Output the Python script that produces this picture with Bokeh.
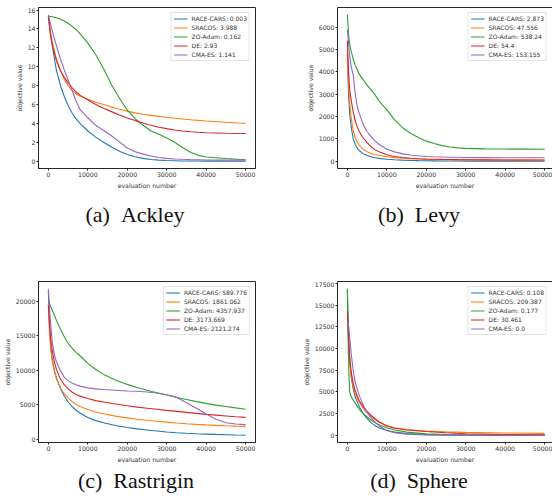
from bokeh.plotting import figure
from bokeh.layouts import column, row
from bokeh.models import Range1d, FixedTicker, Div, LinearAxis
from bokeh.embed import file_html
from bokeh.resources import INLINE

METHODS = ["RACE-CARS", "SRACOS", "ZO-Adam", "DE", "CMA-ES"]
COLORS = ["#1f77b4", "#ff7f0e", "#2ca02c", "#d62728", "#9467bd"]
X_TICKS = [0, 10000, 20000, 30000, 40000, 50000]
CAPTIONS = ["(a)\u2002Ackley", "(b)\u2002Levy", "(c)\u2002Rastrigin", "(d)\u2002Sphere"]

# ---------------- Ackley ----------------
ackley_x = [0, 500, 1000, 2000, 3000, 4000, 5000, 6000, 7000, 8000, 10000, 12000, 14000, 16000,
            18000, 20000, 22000, 24000, 26000, 28000, 30000, 32000, 34000, 36000, 38000, 40000, 45000, 50000]
ackley_race = [15.4, 13.6, 12.2, 9.7, 8.1, 6.9, 5.9, 5.1, 4.5, 4.0, 3.2, 2.55, 2.0, 1.5,
               1.05, 0.72, 0.48, 0.3, 0.18, 0.11, 0.07, 0.05, 0.03, 0.02, 0.015, 0.01, 0.005, 0.003]
ackley_sracos = [15.3, 13.8, 12.6, 10.9, 9.7, 8.7, 8.0, 7.5, 7.15, 6.9, 6.55, 6.25, 6.0, 5.75,
                 5.5, 5.3, 5.12, 4.98, 4.85, 4.75, 4.65, 4.55, 4.47, 4.39, 4.32, 4.26, 4.12, 3.99]
ackley_zoadam = [15.35, 15.33, 15.3, 15.2, 15.05, 14.85, 14.6, 14.3, 13.95, 13.5, 12.5, 11.3, 9.8, 8.1,
                 6.7, 5.4, 4.5, 3.8, 3.2, 2.85, 2.45, 2.0, 1.45, 0.95, 0.62, 0.45, 0.28, 0.162]
ackley_de = [15.3, 13.5, 12.3, 10.7, 9.6, 8.9, 8.3, 7.8, 7.35, 7.0, 6.5, 6.0, 5.6, 5.25,
             4.9, 4.58, 4.3, 4.05, 3.8, 3.6, 3.45, 3.3, 3.2, 3.12, 3.06, 3.02, 2.96, 2.93]
ackley_cmaes = [15.5, 14.6, 13.8, 12.3, 10.9, 9.7, 8.6, 7.5, 6.4, 5.5, 4.6, 3.8, 3.25, 2.7,
                2.05, 1.4, 1.0, 0.75, 0.55, 0.4, 0.3, 0.24, 0.2, 0.17, 0.15, 0.13, 0.12, 0.11]
ackley_final = ["0.003", "3.988", "0.162", "2.93", "1.141"]
ackley_yticks = [0, 2, 4, 6, 8, 10, 12, 14, 16]

# ---------------- Levy ----------------
levy_x = [0, 300, 600, 1000, 1500, 2000, 2500, 3000, 4000, 5000, 6000, 7000, 8000, 10000, 12000,
          14000, 16000, 18000, 20000, 22000, 24000, 26000, 28000, 30000, 35000, 40000, 45000, 50000]
levy_race = [4800, 3000, 2100, 1500, 1000, 750, 590, 480, 340, 260, 200, 160, 130, 90, 65,
             48, 36, 27, 20, 16, 13, 10, 8, 6, 5, 4, 3.4, 2.9]
levy_sracos = [5000, 3500, 2600, 1900, 1350, 1050, 860, 720, 540, 430, 350, 300, 260, 200, 160,
               135, 115, 98, 85, 77, 70, 65, 62, 60, 55, 52, 49.5, 47.6]
levy_zoadam = [6550, 5700, 5200, 4900, 4550, 4300, 4100, 3900, 3650, 3400, 3200, 2980, 2700, 2300, 1850,
               1500, 1250, 1060, 900, 790, 700, 640, 600, 575, 555, 545, 540, 538]
levy_de = [5400, 4000, 3200, 2700, 2200, 1800, 1550, 1330, 1050, 830, 650, 520, 420, 290, 210,
           165, 135, 115, 100, 90, 82, 76, 71, 68, 62, 58, 56, 54.4]
levy_cmaes = [5900, 5300, 4700, 4200, 3850, 3000, 2450, 2150, 1650, 1330, 1100, 900, 760, 540, 420,
              330, 280, 245, 215, 200, 190, 182, 176, 170, 163, 158, 155, 153.2]
levy_final = ["2.873", "47.556", "538.24", "54.4", "153.155"]
levy_yticks = [0, 1000, 2000, 3000, 4000, 5000, 6000]

# ---------------- Rastrigin ----------------
rastrigin_x = [0, 300, 600, 1000, 1500, 2000, 3000, 4000, 5000, 6000, 7000, 8000, 10000, 12000, 14000,
               17000, 20000, 22500, 25000, 27500, 30000, 32500, 35000, 37500, 40000, 42500, 45000, 47500, 50000]
rastrigin_race = [21500, 16500, 13500, 11600, 10000, 9000, 7500, 6300, 5400, 4750, 4200, 3800, 3150, 2700, 2400,
                  2000, 1700, 1500, 1350, 1200, 1050, 950, 860, 800, 750, 700, 660, 620, 590]
rastrigin_sracos = [19200, 15500, 13000, 11300, 9900, 8800, 7500, 6600, 6000, 5450, 5050, 4750, 4300, 3950, 3700,
                    3350, 3100, 2900, 2750, 2600, 2480, 2360, 2250, 2160, 2080, 2010, 1950, 1900, 1861]
rastrigin_zoadam = [20300, 19700, 19200, 18700, 18000, 17300, 16000, 14900, 13900, 13200, 12600, 12100, 11000, 10100, 9400,
                    8600, 7950, 7500, 7100, 6750, 6400, 6050, 5750, 5450, 5200, 4950, 4750, 4550, 4358]
rastrigin_de = [19500, 16500, 14500, 12800, 11300, 10200, 8800, 7900, 7300, 6850, 6500, 6250, 5900, 5600, 5400,
                5100, 4850, 4660, 4500, 4340, 4180, 4040, 3900, 3750, 3600, 3490, 3380, 3270, 3174]
rastrigin_cmaes = [21800, 19000, 16500, 14000, 12300, 11300, 10000, 9000, 8500, 8150, 7900, 7700, 7450, 7300, 7200,
                   7100, 7000, 6950, 6850, 6700, 6450, 6100, 5300, 4500, 3650, 2900, 2400, 2200, 2121]
rastrigin_final = ["589.776", "1861.062", "4357.937", "3173.669", "2121.274"]
rastrigin_yticks = [0, 5000, 10000, 15000, 20000]

# ---------------- Sphere ----------------
sphere_x = [0, 200, 400, 600, 1000, 1500, 2000, 3000, 4000, 5000, 6000, 7000, 8000, 10000, 12000,
            15000, 20000, 25000, 30000, 40000, 50000]
sphere_race = [16900, 13500, 10500, 8500, 6600, 5300, 4400, 3300, 2500, 1900, 1450, 1100, 850, 550, 350,
               180, 60, 20, 7, 1, 0.108]
sphere_sracos = [14000, 12000, 10000, 8500, 6800, 5600, 4800, 3800, 3100, 2550, 2150, 1800, 1500, 1100, 850,
                 650, 470, 380, 320, 250, 209.4]
sphere_zoadam = [16800, 11000, 7000, 5000, 4400, 4000, 3700, 3000, 2500, 2100, 1750, 1450, 1200, 850, 600,
                 350, 150, 60, 25, 5, 0.177]
sphere_de = [14300, 12500, 10500, 9000, 7200, 6000, 5100, 4000, 3300, 2750, 2300, 1900, 1550, 1050, 800,
             600, 420, 280, 170, 70, 30.5]
sphere_cmaes = [13100, 12900, 12300, 11300, 9300, 7400, 6100, 4600, 3500, 2650, 2000, 1500, 1100, 550, 280,
                120, 30, 8, 2, 0.2, 0.0]
sphere_final = ["0.108", "209.387", "0.177", "30.461", "0.0"]
sphere_yticks = [0, 2500, 5000, 7500, 10000, 12500, 15000, 17500]

FONT = "DejaVu Sans"
DARK = "#262626"


def make_panel(xs, series, finals, yticks, width, height, left, right, top, bottom, frame_w,
               cut_right=False, full_frame_w=217):
    # visible x span: the right-hand panels are cut off at the page edge
    span = 55000.0 * frame_w / full_frame_w
    allv = [v for s in series for v in s]
    lo, hi = min(allv), max(allv)
    pad = 0.05 * (hi - lo)
    p = figure(width=width, height=height, output_backend="svg", toolbar_location=None,
               x_range=Range1d(-2500, -2500 + span), y_range=Range1d(lo - pad, hi + pad),
               min_border_left=left, min_border_right=right, min_border_top=top,
               min_border_bottom=bottom)
    for name, col, vals, fin in zip(METHODS, COLORS, series, finals):
        p.line(xs, vals, line_color=col, line_width=1.1, legend_label=f"{name}: {fin}")
    p.xgrid.visible = False
    p.ygrid.visible = False
    xax = p.below[0]
    yax = p.left[0]
    if cut_right:
        # right spine lies beyond the page edge: draw only top/left/bottom spines
        p.outline_line_color = None
        top_ax = LinearAxis(ticker=FixedTicker(ticks=[]), major_tick_out=0, major_tick_in=0,
                            minor_tick_line_color=None, major_label_standoff=0,
                            axis_line_color=DARK, axis_line_width=1)
        p.add_layout(top_ax, "above")
    else:
        p.outline_line_color = DARK
        p.outline_line_width = 1
    p.background_fill_color = "white"
    p.border_fill_color = "white"
    xax.ticker = FixedTicker(ticks=X_TICKS)
    yax.ticker = FixedTicker(ticks=yticks)
    xax.axis_label = "evaluation number"
    yax.axis_label = "objective value"
    for ax in (xax, yax):
        ax.minor_tick_line_color = None
        ax.major_tick_out = 2
        ax.major_tick_in = 0
        ax.major_tick_line_color = DARK
        ax.axis_line_color = DARK
        ax.axis_line_width = 1
        ax.major_label_text_font = FONT
        ax.major_label_text_font_size = "6.2px"
        ax.major_label_text_color = "#333333"
        ax.major_label_standoff = 1
        ax.axis_label_text_font = FONT
        ax.axis_label_text_font_size = "6.2px"
        ax.axis_label_text_font_style = "normal"
        ax.axis_label_text_color = "#333333"
        ax.axis_label_standoff = 2
    lg = p.legend[0]
    lg.location = "top_right"
    lg.margin = 5
    lg.padding = 2
    lg.spacing = 2
    lg.label_height = 7
    lg.glyph_height = 7
    lg.glyph_width = 14
    lg.label_standoff = 4
    lg.label_text_font = FONT
    lg.label_text_font_size = "6px"
    lg.label_text_color = "#333333"
    lg.border_line_color = "#cccccc"
    lg.border_line_width = 1
    lg.background_fill_alpha = 0.85
    return p


def caption(text, width, height, pad_top, pad_left, pad_right):
    html = (f'<div style="box-sizing:border-box;width:{width}px;text-align:center;'
            f'padding-top:{pad_top}px;padding-left:{pad_left}px;padding-right:{pad_right}px;'
            f'font-family:\'Liberation Serif\',\'Times New Roman\',serif;font-size:22px;color:#111;'
            f'white-space:nowrap;">{text}</div>')
    return Div(text=html, width=width, height=height, margin=0)


W1, W2 = 276, 276
p1 = make_panel(ackley_x, [ackley_race, ackley_sracos, ackley_zoadam, ackley_de, ackley_cmaes],
                ackley_final, ackley_yticks, W1, 191, 38, 21, 7, 22, 217)
p2 = make_panel(levy_x, [levy_race, levy_sracos, levy_zoadam, levy_de, levy_cmaes],
                levy_final, levy_yticks, W2, 191, 61, 0, 7, 22, 215, cut_right=True)
p3 = make_panel(rastrigin_x, [rastrigin_race, rastrigin_sracos, rastrigin_zoadam, rastrigin_de, rastrigin_cmaes],
                rastrigin_final, rastrigin_yticks, W1, 184, 38, 21, 0, 22, 217)
p4 = make_panel(sphere_x, [sphere_race, sphere_sracos, sphere_zoadam, sphere_de, sphere_cmaes],
                sphere_final, sphere_yticks, W2, 184, 61, 0, 0, 22, 215, cut_right=True)

c1 = caption(CAPTIONS[0], W1, 90, 8, 0, 6)
c2 = caption(CAPTIONS[1], W2, 90, 8, 10, 0)
c3 = caption(CAPTIONS[2], W1, 36, 0, 0, 4)
c4 = caption(CAPTIONS[3], W2, 36, 0, 10, 0)

layout = column(row(p1, p2), row(c1, c2), row(p3, p4), row(c3, c4))

open("out.html", "w").write(file_html(layout, INLINE))
